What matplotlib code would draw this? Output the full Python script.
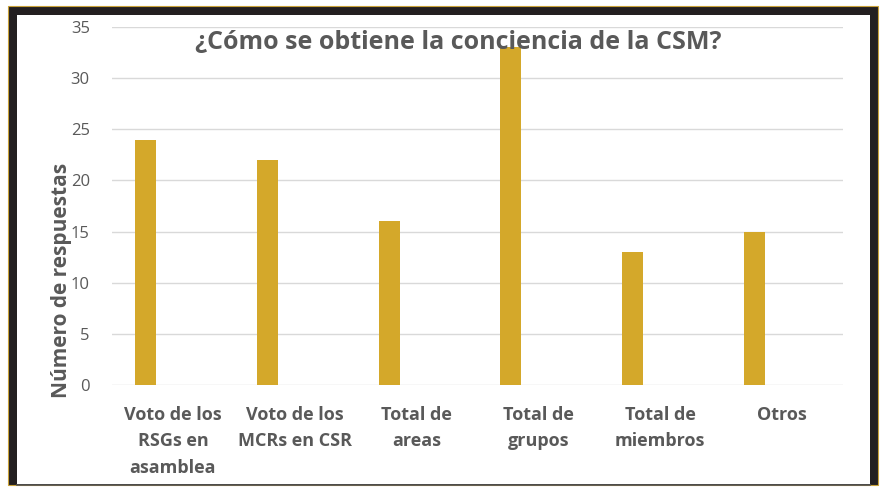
import numpy as np
import matplotlib.pyplot as plt
from matplotlib.patches import Rectangle

categorias = ['Voto de los\nRSGs en\nasamblea', 'Voto de los\nMCRs en CSR', 'Total de\nareas',
              'Total de\ngrupos', 'Total de\nmiembros', 'Otros']
respuestas = [24, 22, 16, 33, 13, 15]

gris = '#595959'
oro = '#D4A82A'

plt.rcParams['font.family'] = ['Open Sans', 'DejaVu Sans']

fig = plt.figure(figsize=(8.82, 4.87), dpi=100)
W, H = 882, 487

# marco negro alrededor de la imagen
fig.patches.append(Rectangle((8 / W, 1 - 485 / H), 870 / W, 479 / H, transform=fig.transFigure,
                             facecolor='#231F20', edgecolor='#C9A23A', linewidth=0.8, zorder=-2))
fig.patches.append(Rectangle((17 / W, 1 - 484 / H), 853 / W, 469 / H, transform=fig.transFigure,
                             facecolor='white', edgecolor='none', zorder=-1))
fig.add_artist(plt.Line2D([17 / W, 870 / W], [1 - 485 / H, 1 - 485 / H], transform=fig.transFigure,
                          color='#555555', linewidth=1.2))

ax = fig.add_axes([112 / W, 1 - 385 / H, (843 - 112) / W, (385 - 27) / H])
ax.set_zorder(1)
ax.patch.set_alpha(0)
x = np.arange(len(categorias))
ax.bar(x - 0.226, respuestas, width=0.173, color=oro, zorder=3)

ax.set_xlim(-0.5, len(categorias) - 0.5)
ax.set_ylim(0, 35)
ax.set_yticks(range(0, 36, 5))
ax.grid(axis='y', color='#D9D9D9', linewidth=1, zorder=0)
ax.set_xticks(x)
ax.set_xticklabels(categorias, fontsize=13, fontweight='bold', color=gris, linespacing=1.6, va='top')
ax.tick_params(axis='x', length=0, pad=15)
ax.tick_params(axis='y', length=0, pad=16, labelsize=12, labelcolor=gris)
for s in ax.spines.values():
    s.set_visible(False)

fig.text(458 / W, 1 - 42 / H, '¿Cómo se obtiene la conciencia de la CSM?', fontsize=18, fontweight='bold',
         color=gris, ha='center', va='center', zorder=2)
fig.text(62 / W, 1 - 280 / H, 'Número de respuestas', fontsize=15, fontweight='bold', color=gris,
         rotation=90, ha='center', va='center')

fig.savefig('out.png', dpi=100)
